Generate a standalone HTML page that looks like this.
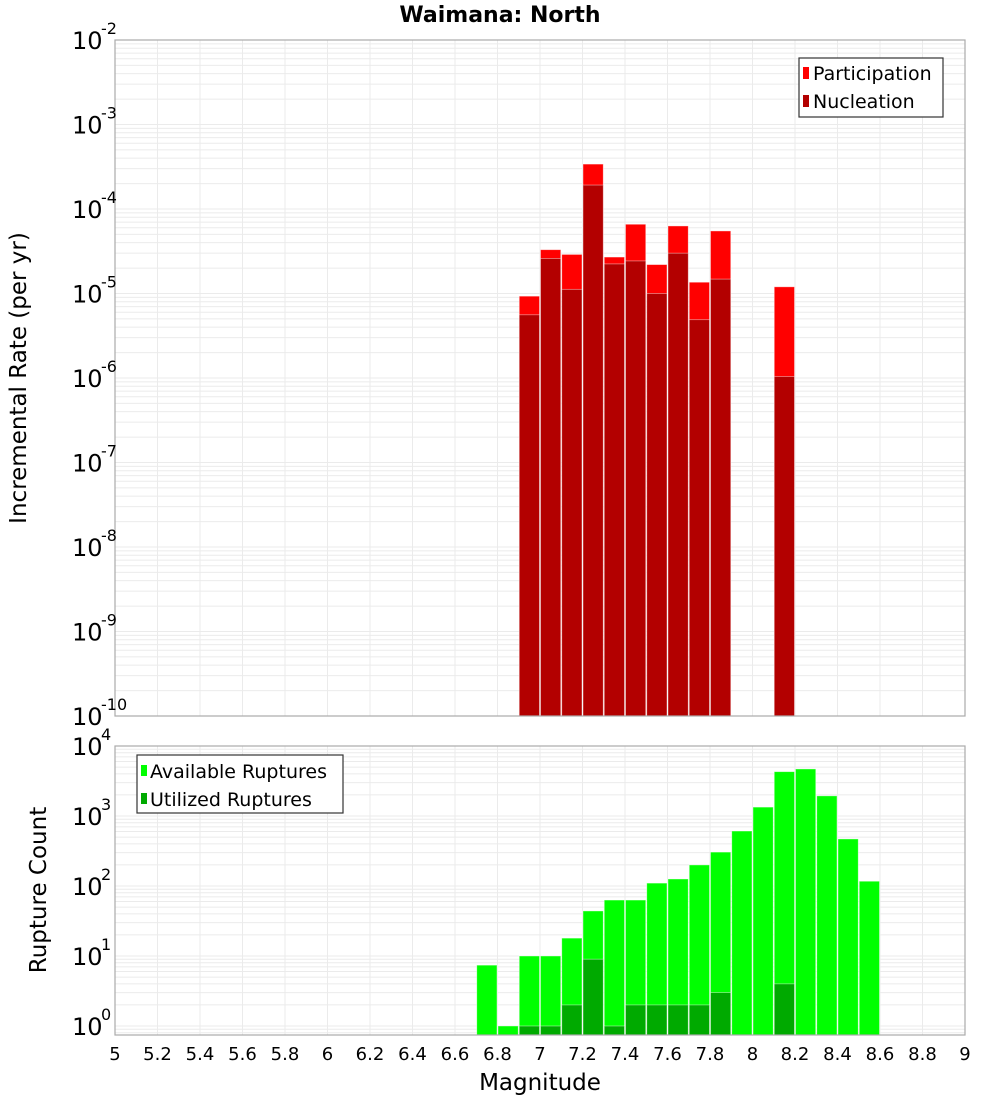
<!DOCTYPE html>
<html><head><meta charset="utf-8"><style>
body{margin:0;background:#fff;}
text{font-family:"DejaVu Sans","Liberation Sans",sans-serif;}
</style></head><body>
<svg id="chart" width="1000" height="1100" viewBox="0 0 1000 1100" xmlns="http://www.w3.org/2000/svg">
<rect width="1000" height="1100" fill="#fff"/>
<text x="500" y="22" text-anchor="middle" font-size="22" font-weight="bold">Waimana: North</text>
<g id="panelTop"></g><g id="panelBot"></g>
<text transform="translate(26,378) rotate(-90)" text-anchor="middle" font-size="23">Incremental Rate (per yr)</text>
<text transform="translate(46,890) rotate(-90)" text-anchor="middle" font-size="23">Rupture Count</text>
<text x="540" y="1090" text-anchor="middle" font-size="23">Magnitude</text>
<g>
<rect x="799" y="58" width="144" height="59" fill="#fff" stroke="#333" stroke-width="1.2"/>
<rect x="803" y="67" width="6" height="12" fill="#ff0000"/>
<text x="813" y="80" font-size="19">Participation</text>
<rect x="803" y="95" width="6" height="12" fill="#b30000"/>
<text x="813" y="108" font-size="19">Nucleation</text>
</g>
<g>
<rect x="137" y="755" width="206" height="58" fill="#fff" stroke="#333" stroke-width="1.2"/>
<rect x="141" y="765" width="6" height="11" fill="#00ff00"/>
<text x="150" y="778" font-size="19">Available Ruptures</text>
<rect x="141" y="793" width="6" height="11" fill="#00aa00"/>
<text x="150" y="806" font-size="19">Utilized Ruptures</text>
</g>
</svg>
<script>
const topMags=[6.9,7.0,7.1,7.2,7.3,7.4,7.5,7.6,7.7,7.8,8.1];
const participation=[9.3e-6,3.3e-5,2.9e-5,3.4e-4,2.7e-5,6.6e-5,2.2e-5,6.3e-5,1.36e-5,5.5e-5,1.2e-5];
const nucleation=[5.6e-6,2.6e-5,1.12e-5,1.92e-4,2.24e-5,2.43e-5,1.0e-5,3.0e-5,4.9e-6,1.48e-5,1.04e-6];
const botMags=[6.7,6.8,6.9,7.0,7.1,7.2,7.3,7.4,7.5,7.6,7.7,7.8,7.9,8.0,8.1,8.2,8.3,8.4,8.5];
const available=[7.4,1,10,10,18,44,63,63,110,126,200,305,610,1340,4300,4700,1940,470,117];
const utilized=[0,0,1,1,2,9,1,2,2,2,2,3,0,0,4,0,0,0,0];
const xTicks=["5","5.2","5.4","5.6","5.8","6","6.2","6.4","6.6","6.8","7","7.2","7.4","7.6","7.8","8","8.2","8.4","8.6","8.8","9"];
const topExps=[-2,-3,-4,-5,-6,-7,-8,-9,-10];
const botExps=[4,3,2,1,0];

const NS="http://www.w3.org/2000/svg";
const X0=115,X1=965;
const xs=m=>X0+(m-5)/4*(X1-X0);
const yTop=v=>40+(-2-Math.log10(v))*84.5;
const yBot=v=>1026-Math.log10(v)*70;
function mk(p,tag,at){const e=document.createElementNS(NS,tag);for(const k in at)e.setAttribute(k,at[k]);p.appendChild(e);return e;}

function panel(g,yt,yb,yfn,lo,hi){
  for(let d=lo;d<hi;d++)for(let k=1;k<10;k++){const y=yfn(k*Math.pow(10,d));if(y<yt||y>yb)continue;
    const l=mk(g,'line',{x1:X0,x2:X1,y1:y,y2:y,stroke:'#ebebeb','stroke-width':1});
    
    }
  for(let i=0;i<xTicks.length;i++){const x=xs(5+i*0.2);
    const l=mk(g,'line',{x1:x,x2:x,y1:yt,y2:yb,stroke:'#ebebeb','stroke-width':1});
    
    }
}
const gTop=document.getElementById('panelTop'),gBot=document.getElementById('panelBot');
panel(gTop,40,716,yTop,-10,-2);
panel(gBot,746,1035,yBot,-1,4);

function bar(g,m,v,yfn,base,fill,name){
  const x=xs(m),w=xs(m+0.1)-x,y=Math.min(yfn(v),base);
  const r=mk(g,'rect',{x:x+0.5,y:y,width:w-1,height:base-y,fill:fill,stroke:'#fff','stroke-opacity':0.5,'stroke-width':0.8});
  
  
}
topMags.forEach((m,i)=>{bar(gTop,m,participation[i],yTop,716,'#ff0000','participation-bar');});
topMags.forEach((m,i)=>{bar(gTop,m,nucleation[i],yTop,716,'#b30000','nucleation-bar');});
botMags.forEach((m,i)=>{bar(gBot,m,available[i],yBot,1035,'#00ff00','available-bar');});
botMags.forEach((m,i)=>{if(utilized[i]>0)bar(gBot,m,utilized[i],yBot,1035,'#00aa00','utilized-bar');});

mk(gTop,'rect',{x:X0,y:40,width:X1-X0,height:676,fill:'none',stroke:'#aaa','stroke-width':1.2});
mk(gBot,'rect',{x:X0,y:746,width:X1-X0,height:289,fill:'none',stroke:'#aaa','stroke-width':1.2});

function ylab(g,y,e,name){
  const t=mk(g,'text',{x:72,y:y+9,'font-size':24});
  
  
  t.textContent='10';
  const s=mk(g,'text',{x:101,y:y-6,'font-size':16});
  
  
  s.textContent=String(e);
}
topExps.forEach(e=>ylab(gTop,yTop(Math.pow(10,e)),e,'top-y-tick-label'));
botExps.forEach(e=>ylab(gBot,yBot(Math.pow(10,e)),e,'bottom-y-tick-label'));
xTicks.forEach((t,i)=>{const e=mk(gBot,'text',{x:xs(5+i*0.2),y:1060,'font-size':18,'text-anchor':'middle'});
  
  
  e.textContent=t;});
</script>
</body></html>
